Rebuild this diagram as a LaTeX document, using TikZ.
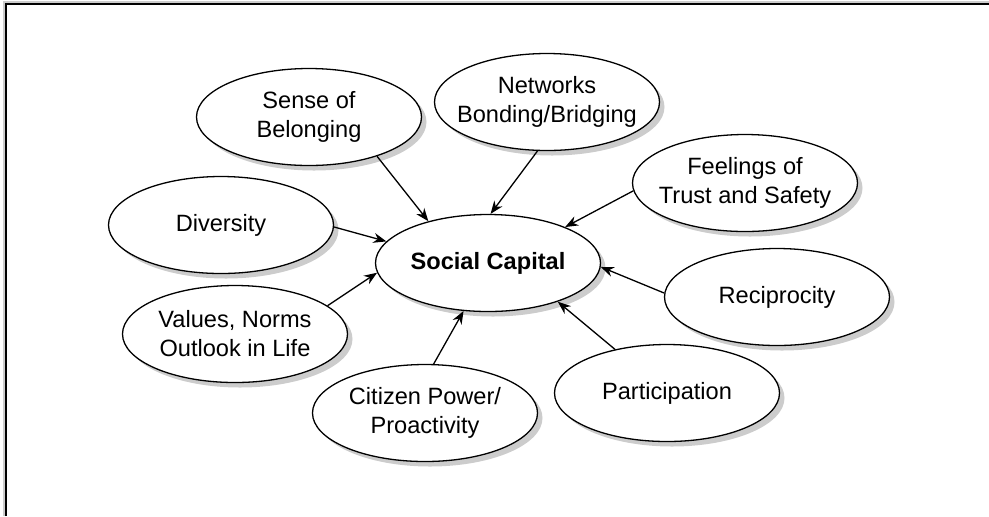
\documentclass[tikz,border=0pt]{standalone}
\usepackage{fontspec}
\setmainfont{Liberation Sans}
\usetikzlibrary{shapes.geometric, shadows, arrows.meta}
\tikzset{
  factor/.style={ellipse, draw, line width=0.65pt, fill=white,
    minimum width=112.5pt, minimum height=48.5pt, inner xsep=-8pt, inner ysep=0pt,
    align=center, font=\fontsize{11.8}{14.5}\selectfont,
    drop shadow={shadow xshift=2.5pt, shadow yshift=-2.5pt, fill=black!20, opacity=1}},
  link/.style={-{Stealth[length=6.5pt,width=5pt]}, line width=0.65pt}
}
\begin{document}
\begin{tikzpicture}[x=0.5pt,y=-0.5pt]
  \useasboundingbox (0,0) rectangle (989,516);
  \draw[line width=1pt, black!20] (3.5,516)--(3.5,1.5)--(989,1.5);
  \draw[line width=1pt] (6,516)--(6,3.5)--(989,3.5);
  \node[factor, font=\bfseries\fontsize{11.8}{14.5}\selectfont] (sc) at (488,263) {Social Capital};
  \node[factor] (sb) at (309,117) {Sense of\\Belonging};
  \node[factor] (nw) at (547,102) {Networks\\Bonding/Bridging};
  \node[factor] (ft) at (745,183) {Feelings of\\Trust and Safety};
  \node[factor] (dv) at (221,225) {Diversity};
  \node[factor] (rc) at (777,297) {Reciprocity};
  \node[factor] (vn) at (235,334) {Values, Norms\\Outlook in Life};
  \node[factor] (pt) at (667,393) {Participation};
  \node[factor] (cp) at (425,413) {Citizen Power/\\Proactivity};
  \foreach \from/\a/\b in {sb/-30.8/145.7, nw/-101.3/87.7, ft/-176.5/25.7, dv/-1.5/168.5,
      rc/178/-2.5, pt/140.4/-29, vn/17.3/-175, cp/80.5/-117.5}
    \draw[link] (\from.\a) -- (sc.\b);
\end{tikzpicture}
\end{document}
